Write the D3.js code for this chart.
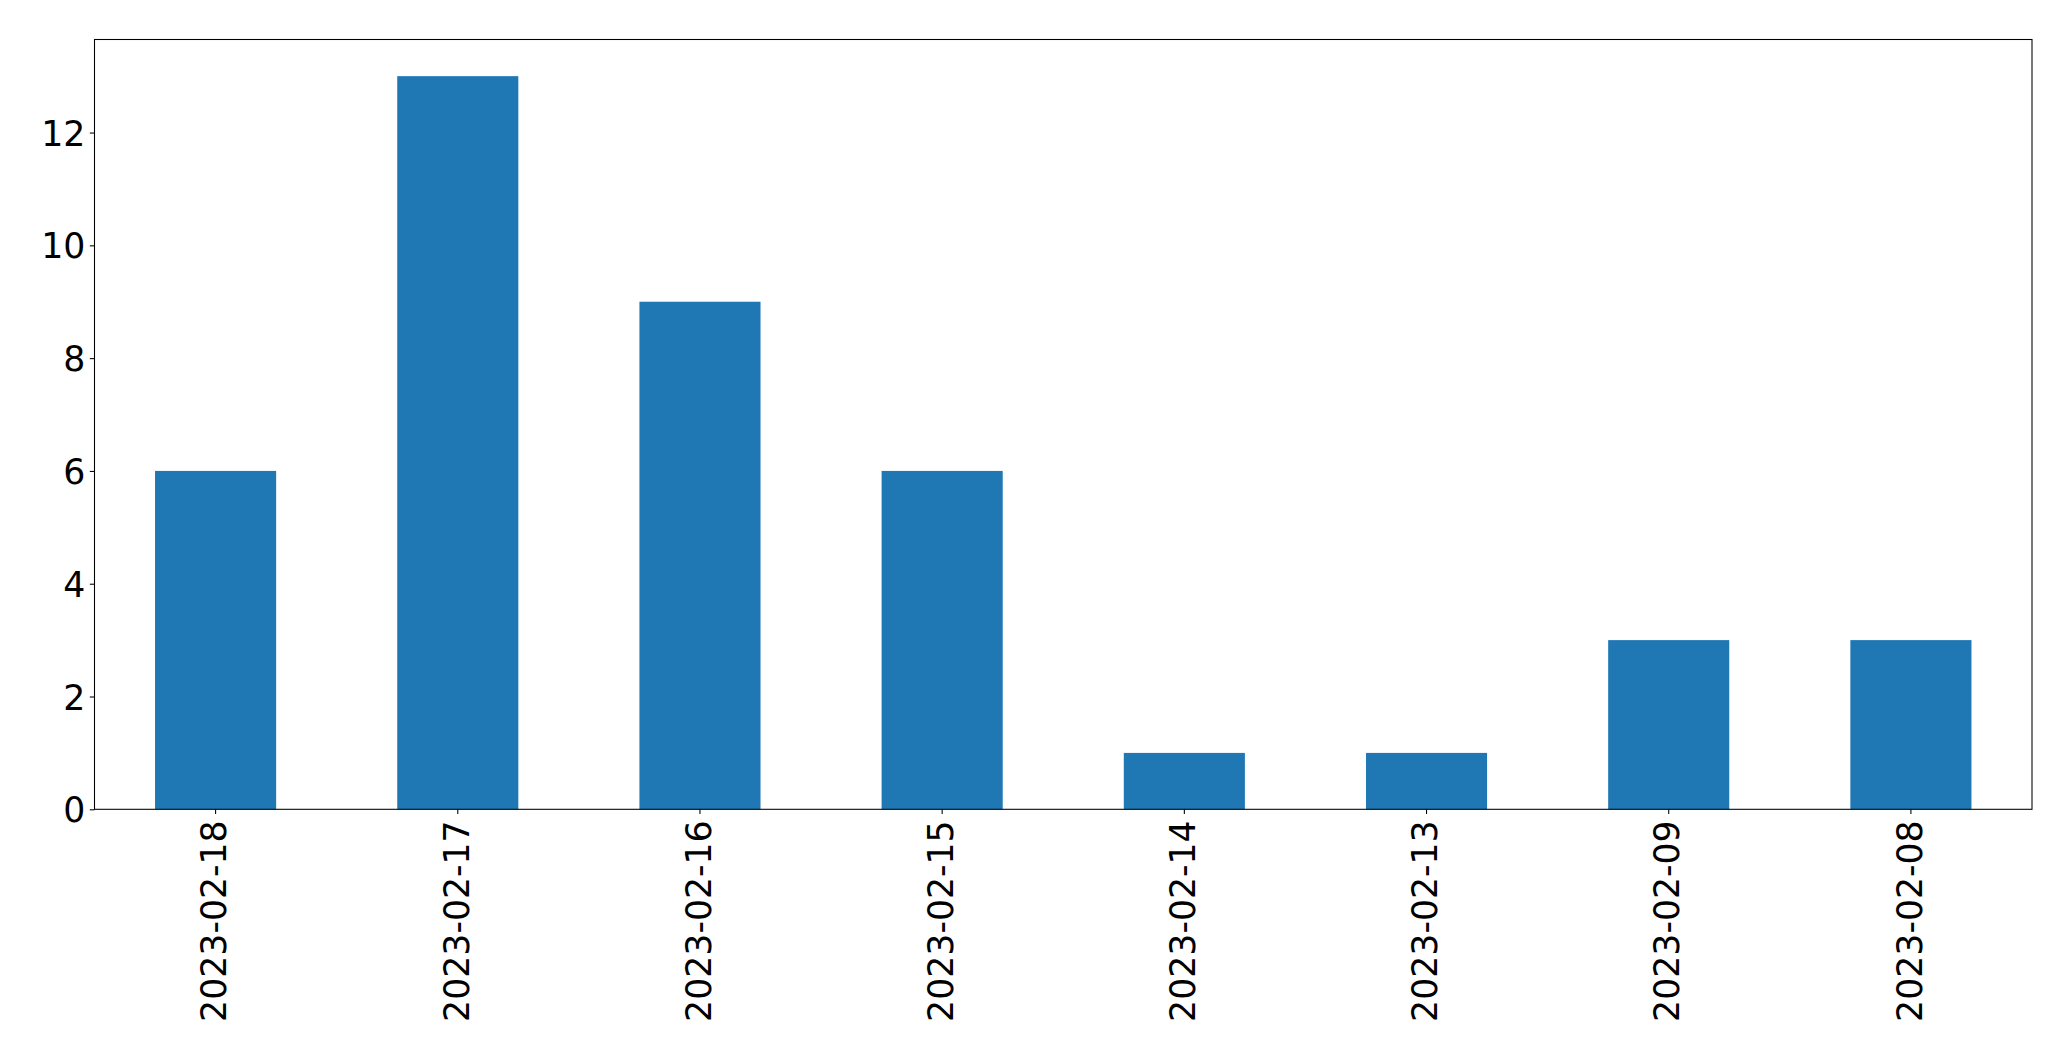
<!DOCTYPE html>
<html>
<head>
<meta charset="utf-8">
<script src="https://cdn.jsdelivr.net/npm/d3@7"></script>
<style>
html,body{margin:0;padding:0;background:#fff;}
svg{display:block;}
text{font-family:"DejaVu Sans",sans-serif;fill:#000;}
</style>
</head>
<body>
<script>
const categories = ["2023-02-18","2023-02-17","2023-02-16","2023-02-15","2023-02-14","2023-02-13","2023-02-09","2023-02-08"];
const values = [6, 13, 9, 6, 1, 1, 3, 3];
const yTicks = [0, 2, 4, 6, 8, 10, 12];

const W = 2071, H = 1061;
const m = {left: 94.5, right: 2071 - 2032, top: 39.5, bottom: 1061 - 809.3};
const fontSize = 34.7;

const svg = d3.select("body").append("svg").attr("width", W).attr("height", H);

const x = d3.scaleBand().domain(categories)
  .range([m.left, W - m.right]).paddingInner(0.5).paddingOuter(0.25);
const yMax = d3.max(values) * 1.05;
const y = d3.scaleLinear().domain([0, yMax]).range([H - m.bottom, m.top]);

svg.append("g").selectAll("rect").data(values).join("rect")
  .attr("x", (d, i) => x(categories[i]))
  .attr("y", d => y(d))
  .attr("width", x.bandwidth())
  .attr("height", d => y(0) - y(d))
  .attr("fill", "#1f77b4");

// y axis
const yAxis = d3.axisLeft(y).tickValues(yTicks).tickFormat(d3.format("d")).tickSize(4.7).tickPadding(4.5);
const gy = svg.append("g").attr("transform", `translate(${m.left},0)`).call(yAxis);
gy.select(".domain").remove();
gy.selectAll(".tick line").attr("stroke", "#000").attr("stroke-width", 1.07);
gy.selectAll(".tick text").attr("font-size", fontSize).attr("font-family", "DejaVu Sans").attr("dy", "0.36em");

// x axis
const xAxis = d3.axisBottom(x).tickSize(4.7).tickPadding(0);
const gx = svg.append("g").attr("transform", `translate(0,${H - m.bottom})`).call(xAxis);
gx.select(".domain").remove();
gx.selectAll(".tick line").attr("stroke", "#000").attr("stroke-width", 1.07);
gx.selectAll(".tick text")
  .attr("font-size", fontSize).attr("font-family", "DejaVu Sans")
  .attr("text-anchor", "end")
  .attr("transform", "translate(0,11) rotate(-90)")
  .attr("x", 0).attr("y", 0).attr("dy", "0.31em");

// frame
svg.append("rect")
  .attr("x", m.left).attr("y", m.top)
  .attr("width", W - m.right - m.left).attr("height", H - m.bottom - m.top)
  .attr("fill", "none").attr("stroke", "#000").attr("stroke-width", 1.07);
</script>
</body>
</html>
